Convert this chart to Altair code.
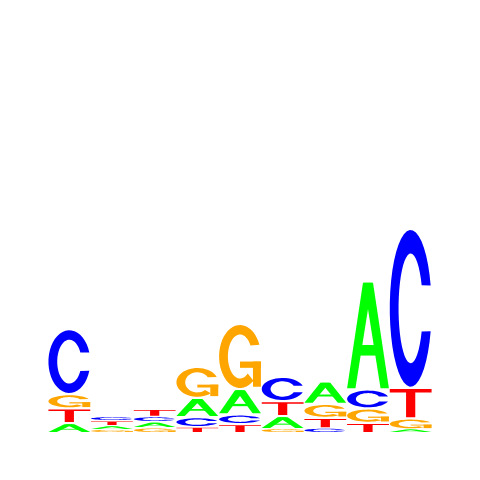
import numpy as np
import pandas as pd
import altair as alt

# ---- data: sequence logo (bits), letters listed bottom -> top ----
positions = [1, 2, 3, 4, 5, 6, 7, 8, 9]
letters_by_pos = [
    ["A", "T", "G", "C"],
    ["G", "A", "T", "C"],
    ["G", "A", "C", "T"],
    ["T", "C", "A", "G"],
    ["T", "C", "A", "G"],
    ["G", "A", "T", "C"],
    ["C", "T", "G", "A"],
    ["T", "G", "C", "A"],
    ["A", "G", "T", "C"],
]
heights_by_pos = [
    [0.100, 0.147, 0.143, 0.650],
    [0.030, 0.040, 0.050, 0.040],
    [0.050, 0.060, 0.053, 0.080],
    [0.060, 0.100, 0.193, 0.310],
    [0.090, 0.097, 0.253, 0.653],
    [0.040, 0.130, 0.150, 0.243],
    [0.047, 0.106, 0.140, 0.223],
    [0.103, 0.144, 0.190, 1.079],
    [0.037, 0.110, 0.306, 1.590],
]
letter_names = ["A", "C", "G", "T"]
letter_colors = ["#00FF00", "#0000FF", "#FFA500", "#FF0000"]


# ---- glyph outlines in a unit box ----
def arc(t0, t1, rx, ry, n=40):
    ts = np.radians(np.linspace(t0, t1, n))
    return [(0.5 + rx * np.cos(t), 0.5 + ry * np.sin(t)) for t in ts]


def glyph(letter):
    if letter == "A":
        return [
            [(0, 0), (0.2, 0), (0.6, 1), (0.38, 1)],
            [(0.8, 0), (1, 0), (0.62, 1), (0.4, 1)],
            [(0.2, 0.31), (0.8, 0.31), (0.8, 0.41), (0.2, 0.41)],
        ]
    if letter == "C":
        return [arc(17, 343, 0.5, 0.5) + arc(335, 25, 0.29, 0.35)]
    if letter == "G":
        return [
            arc(22, 310, 0.5, 0.5) + arc(310, 30, 0.29, 0.35),
            [(0.81, 0.02), (1.0, 0.02), (1.0, 0.42), (0.81, 0.42)],
            [(0.5, 0.32), (1.0, 0.32), (1.0, 0.42), (0.5, 0.42)],
        ]
    if letter == "T":
        return [[(0.39, 0), (0.61, 0), (0.61, 0.88), (1, 0.88), (1, 1),
                 (0, 1), (0, 0.88), (0.39, 0.88)]]


rows = []
gid = 0
for pos, lets, hs in zip(positions, letters_by_pos, heights_by_pos):
    y0 = 0.0
    for let, h in zip(lets, hs):
        gap = min(0.023, 0.3 * h)
        gh = h - gap
        for piece in glyph(let):
            for k, (px, py) in enumerate(piece):
                rows.append({
                    "x": pos - 0.5 + 0.01 + 0.98 * px,
                    "y": y0 + gh * py,
                    "piece": gid,
                    "k": k,
                    "letter": let,
                })
            gid += 1
        y0 += h

df = pd.DataFrame(rows)

chart = alt.Chart(df).mark_line(filled=True, interpolate="linear").encode(
    x=alt.X("x:Q", scale=alt.Scale(domain=[0.5, 9.5], nice=False, zero=False), axis=None),
    y=alt.Y("y:Q", scale=alt.Scale(domain=[0, 4.24], nice=False), axis=None),
    detail="piece:N",
    order="k:Q",
    color=alt.Color("letter:N", scale=alt.Scale(domain=letter_names, range=letter_colors), legend=None),
).properties(
    width=384,
    height=424,
    autosize=alt.AutoSizeParams(type="none"),
    padding={"left": 40, "top": 0, "right": 0, "bottom": 0},
    background="white",
).configure_view(stroke=None)

chart.save("out.html", embed_options={"renderer": "svg", "actions": False})
